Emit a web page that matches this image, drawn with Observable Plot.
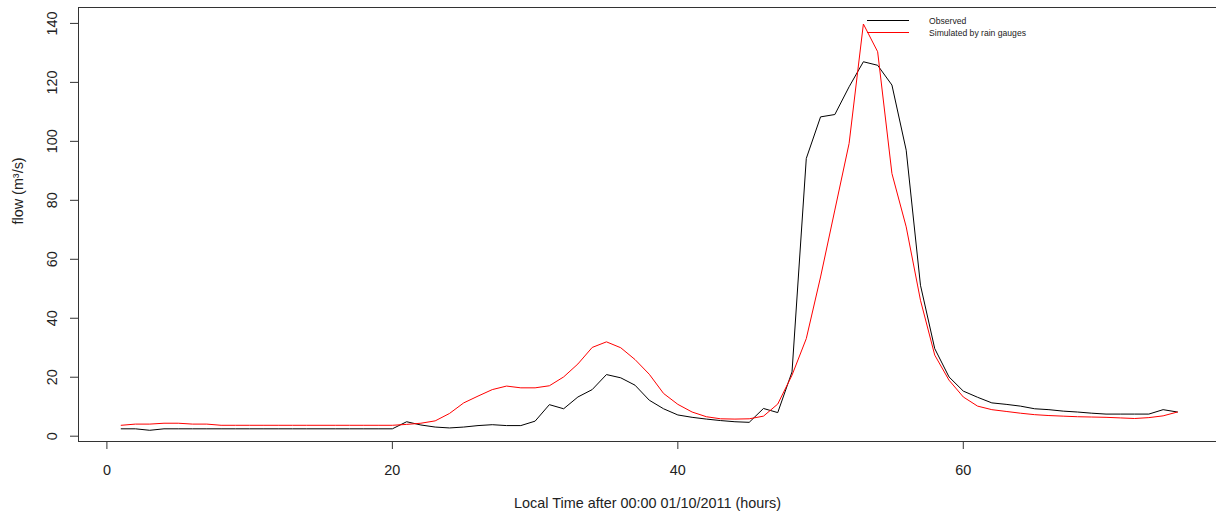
<!DOCTYPE html>
<html><head><meta charset="utf-8">
<script src="https://cdn.jsdelivr.net/npm/d3@7"></script>
<script src="https://cdn.jsdelivr.net/npm/@observablehq/plot@0.6"></script>
<style>
html,body{margin:0;padding:0;background:#fff;}
#chart{position:relative;width:1216px;height:517px;overflow:hidden;}
</style>
</head><body><div id="chart"></div>
<script>
const hours = [1,2,3,4,5,6,7,8,9,10,11,12,13,14,15,16,17,18,19,20,21,22,23,24,25,26,27,28,29,30,31,32,33,34,35,36,37,38,39,40,41,42,43,44,45,46,47,48,49,50,51,52,53,54,55,56,57,58,59,60,61,62,63,64,65,66,67,68,69,70,71,72,73,74,75];
const observed = [2.5,2.5,2.0,2.5,2.5,2.5,2.5,2.5,2.5,2.5,2.5,2.5,2.5,2.5,2.5,2.5,2.5,2.5,2.5,2.5,
  4.9,3.8,3.1,2.8,3.1,3.6,3.9,3.6,3.6,5.1,10.7,9.3,13.3,15.8,20.9,19.8,17.3,12.2,9.3,7.2,
  6.4,5.8,5.3,4.9,4.7,9.4,8.0,21.8,94.2,108.3,109.1,118.5,127.0,125.8,119.1,97.0,51.2,29.7,20.1,15.3,
  13.2,11.3,10.8,10.2,9.3,9.0,8.5,8.2,7.8,7.5,7.5,7.5,7.5,9.0,8.2];
const simulated = [3.7,4.1,4.1,4.4,4.4,4.1,4.1,3.7,3.7,3.7,3.7,3.7,3.7,3.7,3.7,3.7,3.7,3.7,3.7,3.7,
  4.0,4.4,5.2,7.7,11.3,13.6,15.8,17.0,16.4,16.4,17.1,20.1,24.5,30.1,32.0,30.0,26.0,21.0,14.5,10.8,
  8.2,6.6,5.9,5.8,5.9,6.8,10.9,20.7,33.1,54.0,76.7,99.3,139.8,130.4,89.1,71.0,46.1,27.5,19.0,13.3,
  10.2,9.0,8.4,7.8,7.3,7.0,6.8,6.6,6.5,6.4,6.2,6.0,6.3,6.9,8.2];
const seriesNames = ["Observed", "Simulated by rain gauges"];
const seriesColors = ["#000000", "#ff0000"];
const xTicks = [0, 20, 40, 60];
const yTicks = [0, 20, 40, 60, 80, 100, 120, 140];
const xDomain = [-1.99, 77.74];
const yDomain = [-1.8, 145.4];
const xTitle = "Local Time after 00:00 01/10/2011 (hours)";
const yTitle = "flow (m³/s)";

const rows = hours.flatMap((h, i) => [
  {t: h, v: observed[i], s: seriesNames[0]},
  {t: h, v: simulated[i], s: seriesNames[1]}
]);

const axisColor = "#333";
const fs = 14.4;
const font = "'Liberation Sans', Arial, sans-serif";

const svg = Plot.plot({
  width: 1216,
  height: 517,
  marginLeft: 78,
  marginRight: 0,
  marginTop: 7,
  marginBottom: 76,
  style: {fontFamily: font, fontSize: fs + "px", color: "#222", background: "#fff"},
  x: {domain: xDomain, label: null},
  y: {domain: yDomain, label: null},
  color: {domain: seriesNames, range: seriesColors},
  marks: [
    Plot.axisX({ticks: xTicks, tickSize: 8, tickFormat: () => "", stroke: axisColor, label: null}),
    Plot.axisY({ticks: yTicks, tickSize: 8, tickFormat: () => "", stroke: axisColor, label: null}),
    Plot.text(xTicks, {x: d => d, frameAnchor: "bottom", dy: 29, lineAnchor: "middle", fontSize: fs, text: d => String(d)}),
    Plot.text(yTicks, {y: d => d, frameAnchor: "left", dx: -26, rotate: -90, textAnchor: "middle", lineAnchor: "middle", fontSize: fs, text: d => String(d)}),
    Plot.text([xTitle], {frameAnchor: "bottom", dy: 62, lineAnchor: "middle", fontSize: fs}),
    Plot.text([yTitle], {frameAnchor: "left", dx: -60, rotate: -90, lineAnchor: "middle", fontSize: fs}),
    Plot.ruleX([xDomain[0]], {stroke: axisColor}),
    Plot.ruleY([yDomain[0]], {stroke: axisColor}),
    Plot.ruleY([yDomain[1]], {stroke: axisColor}),
    Plot.line(rows, {x: "t", y: "v", z: "s", stroke: "s", strokeWidth: 1})
  ]
});

// legend (no box), top right inside the plot
const lg = d3.select(svg).append("g").attr("font-family", font).attr("text-anchor", "start");
seriesNames.forEach((name, i) => {
  const y = 20.5 + 12 * i;
  lg.append("line").attr("x1", 867).attr("x2", 909).attr("y1", y).attr("y2", y)
    .attr("stroke", seriesColors[i]).attr("stroke-width", 1);
  lg.append("text").attr("x", 929).attr("y", y).attr("dy", "0.35em")
    .attr("text-anchor", "start")
    .attr("font-size", "8.6px").attr("fill", "#222").text(name);
});

document.getElementById("chart").appendChild(svg);
</script>
</body></html>
